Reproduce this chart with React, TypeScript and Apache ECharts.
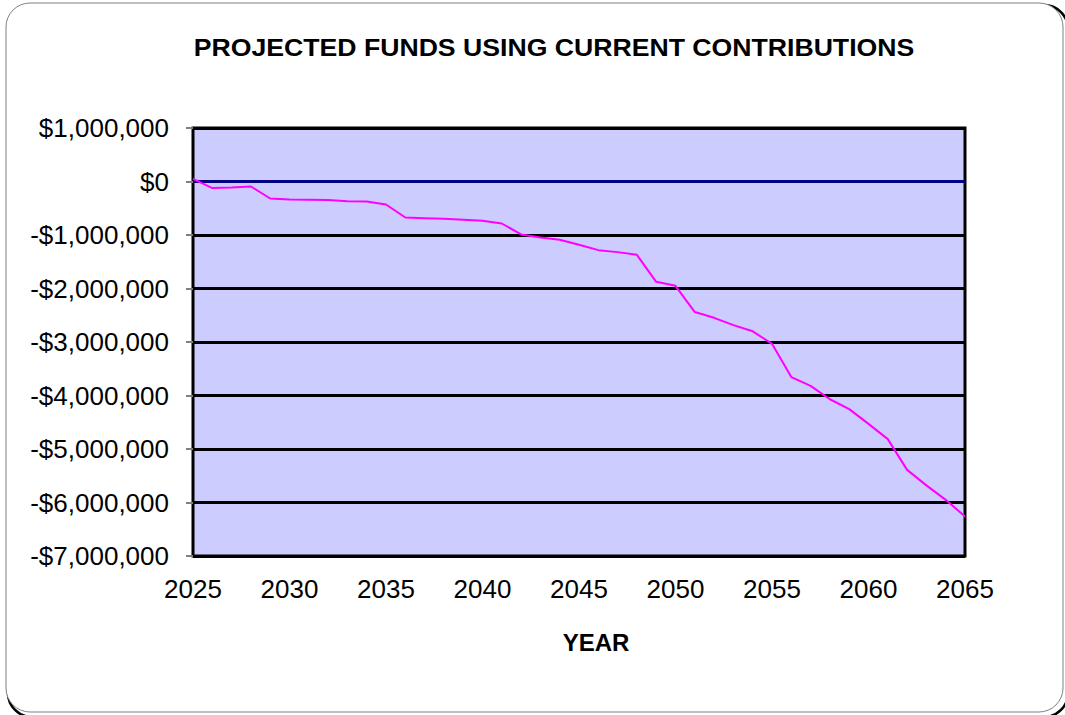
import React, { useEffect, useRef } from "react";
import * as echarts from "echarts";

const years: number[] = [
  2025, 2026, 2027, 2028, 2029, 2030, 2031, 2032, 2033, 2034,
  2035, 2036, 2037, 2038, 2039, 2040, 2041, 2042, 2043, 2044,
  2045, 2046, 2047, 2048, 2049, 2050, 2051, 2052, 2053, 2054,
  2055, 2056, 2057, 2058, 2059, 2060, 2061, 2062, 2063, 2064, 2065,
];

const funds: number[] = [
  50000, -123000, -110000, -93000, -318000, -336000, -342000, -348000, -367000, -374000,
  -430000, -673000, -685000, -697000, -716000, -735000, -785000, -990000, -1047000, -1090000,
  -1183000, -1283000, -1320000, -1370000, -1875000, -1950000, -2440000, -2548000, -2685000, -2800000,
  -3034000, -3656000, -3820000, -4070000, -4255000, -4530000, -4815000, -5390000, -5680000, -5950000,
  -6260000,
];

const titleText = "PROJECTED FUNDS USING CURRENT CONTRIBUTIONS";
const xAxisTitle = "YEAR";

const fmtMoney = (v: number) =>
  (v < 0 ? "-" : "") + "$" + Math.abs(v).toLocaleString("en-US");

export default function App() {
  const ref = useRef<HTMLDivElement>(null);
  useEffect(() => {
    if (!ref.current) return;
    const chart = echarts.init(ref.current, undefined, { renderer: "svg" });
    const font = "'Liberation Sans', Arial, sans-serif";
    chart.setOption({
      animation: false,
      backgroundColor: "#ffffff",
      textStyle: { fontFamily: font },
      grid: {
        left: 193,
        top: 128,
        width: 772,
        height: 428,
        show: true,
        backgroundColor: "#CCCCFF",
        borderColor: "#000000",
        borderWidth: 3,
      },
      xAxis: {
        type: "value",
        min: 2025,
        max: 2065,
        interval: 5,
        axisLine: { show: false },
        axisTick: { show: false },
        splitLine: { show: false },
        axisLabel: {
          color: "#000",
          fontSize: 26,
          fontFamily: font,
          margin: 20,
          formatter: (v: number) => String(v),
        },
      },
      yAxis: {
        type: "value",
        min: -7000000,
        max: 1000000,
        interval: 1000000,
        axisLine: { show: false },
        axisTick: {
          show: true,
          inside: false,
          length: 7,
          lineStyle: { color: "#808080", width: 2 },
        },
        splitLine: { show: true, lineStyle: { color: "#000000", width: 3 } },
        axisLabel: {
          color: "#000",
          fontSize: 26,
          fontFamily: font,
          margin: 24,
          formatter: fmtMoney,
        },
      },
      series: [
        {
          type: "line",
          data: years.map((y, i) => [y, funds[i]]),
          showSymbol: false,
          symbol: "none",
          lineStyle: { color: "#FF00FF", width: 2 },
          z: 5,
          markLine: {
            silent: true,
            symbol: ["none", "none"],
            label: { show: false },
            lineStyle: { color: "#000080", width: 3, type: "solid" },
            data: [{ yAxis: 0 }],
            z: 1,
          },
        },
      ],
      graphic: [
        {
          type: "rect",
          z: -10,
          shape: { x: 8, y: 5, width: 1060, height: 712, r: 24 },
          style: { fill: "none", stroke: "#000000", lineWidth: 2.5 },
        },
        {
          type: "rect",
          z: -9,
          shape: { x: 6, y: 3, width: 1057, height: 709, r: 24 },
          style: { fill: "#ffffff", stroke: "#808080", lineWidth: 1 },
        },
        {
          type: "text",
          x: 554,
          y: 47,
          scaleX: 1.11,
          style: {
            text: titleText,
            fontFamily: font,
            fontWeight: "bold",
            fontSize: 24,
            fill: "#000",
            textAlign: "center",
            textVerticalAlign: "middle",
          },
        },
        {
          type: "text",
          x: 596,
          y: 642,
          style: {
            text: xAxisTitle,
            fontFamily: font,
            fontWeight: "bold",
            fontSize: 24,
            fill: "#000",
            textAlign: "center",
            textVerticalAlign: "middle",
          },
        },
      ],
    });
    return () => chart.dispose();
  }, []);
  return (
    <div
      ref={ref}
      style={{ position: "fixed", left: 0, top: 0, width: 1065, height: 715 }}
    />
  );
}
